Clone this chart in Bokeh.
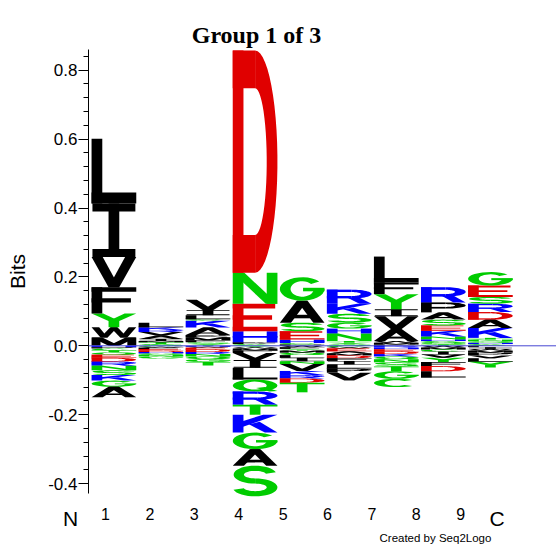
import numpy as np
from bokeh.plotting import figure
from bokeh.models import Range1d, SingleIntervalTicker, PrintfTickFormatter, Label
from bokeh.embed import file_html
from bokeh.resources import INLINE

# ---------------- data (bits per residue, stacks listed from the zero line outward)
positions = [1, 2, 3, 4, 5, 6, 7, 8, 9]
up_letters = ["MWYFVIL", "STMIAVRKL", "YSFMPAKCLIV", "CPHEND", "PCHESAG",
              "QYTNHGSKR", "PMWAVIYFL", "TQGHNKESAPR", "CHQNTKADRSEG"]
up_bits = [
    [.024, .030, .040, .076, .088, .155, .188],
    [.005, .005, .004, .006, .010, .010, .006, .008, .013],
    [.006, .004, .006, .009, .006, .022, .020, .004, .012, .015, .030],
    [.005, .005, .032, .080, .090, .645],
    [.004, .004, .010, .024, .025, .064, .068],
    [.004, .005, .005, .022, .014, .017, .026, .029, .041],
    [.004, .005, .005, .035, .037, .020, .044, .034, .075],
    [.004, .004, .006, .005, .008, .017, .015, .017, .021, .029, .044],
    [.005, .004, .004, .005, .005, .029, .024, .022, .024, .020, .033, .039],
]
dn_letters = ["HPCTQEDRNSKGA", "CWFEDHQNG", "HWEDRNQGT", "YWMFVILQRTKGAS",
              "WFYMQLINVKRDT", "CWEAMDFILPV", "RHEDKQNSTGC", "WMCIVYFDL", "FIWMPVLY"]
dn_bits = [
    [.004, .004, .005, .006, .007, .009, .011, .012, .013, .014, .016, .018, .030],
    [.003, .003, .003, .005, .004, .004, .004, .005, .006],
    [.003, .003, .004, .008, .006, .007, .008, .008, .010],
    [.004, .004, .006, .007, .020, .023, .034, .035, .038, .029, .052, .048, .048, .089],
    [.004, .005, .005, .006, .007, .008, .010, .008, .020, .012, .010, .012, .028],
    [.004, .004, .008, .006, .006, .008, .008, .010, .012, .012, .022],
    [.005, .005, .006, .008, .007, .008, .009, .012, .014, .022, .024],
    [.005, .006, .006, .008, .010, .012, .012, .015, .018],
    [.004, .005, .005, .006, .008, .008, .010, .017],
]
x_tick_labels = ["1", "2", "3", "4", "5", "6", "7", "8", "9"]
title_text = "Group 1 of 3"
credit_text = "Created by Seq2Logo"

BLACK, GREEN, BLUE, RED = "#000000", "#00CC00", "#0000FF", "#E00000"
aa_color = {}
for c in "AVLIPWFM":
    aa_color[c] = BLACK
for c in "GSTYCNQ":
    aa_color[c] = GREEN
for c in "KRH":
    aa_color[c] = BLUE
for c in "DE":
    aa_color[c] = RED

# ---------------- letter outlines in a unit box
SX, SY = 0.24, 0.17


def R(x0, y0, x1, y1):
    return ([x0, x1, x1, x0], [y0, y0, y1, y1])


def P(*pts):
    return ([q[0] for q in pts], [q[1] for q in pts])


def ARC2(cx, cy, rx, ry, icx, icy, irx, iry, a0, a1, n=28):
    t = np.radians(np.linspace(a0, a1, n))
    ox = cx + rx * np.cos(t)
    oy = cy + ry * np.sin(t)
    ix = icx + irx * np.cos(t[::-1])
    iy = icy + iry * np.sin(t[::-1])
    return (list(ox) + list(ix), list(oy) + list(iy))


def ARC(cx, cy, rx, ry, a0, a1):
    return ARC2(cx, cy, rx, ry, cx, cy, rx - SX, ry - SY, a0, a1)


GLYPHS = {
    "A": [P((0, 0), (0.25, 0), (0.62, 1), (0.38, 1)), P((1, 0), (0.75, 0), (0.38, 1), (0.62, 1)),
          R(0.15, 0.2, 0.85, 0.36)],
    "C": [ARC(0.5, 0.5, 0.5, 0.5, 45, 315)],
    "D": [R(0, 0, SX, 1), R(0, 1 - SY, 0.5, 1), R(0, 0, 0.5, SY), ARC(0.5, 0.5, 0.5, 0.5, -90, 90)],
    "E": [R(0, 0, SX, 1), R(0, 1 - SY, 0.95, 1), R(0, 0.42, 0.88, 0.58), R(0, 0, 1, SY)],
    "F": [R(0, 0, SX, 1), R(0, 1 - SY, 1, 1), R(0, 0.42, 0.88, 0.58)],
    "G": [ARC(0.5, 0.5, 0.5, 0.5, 40, 360), R(0.52, 0.4, 1.0, 0.55)],
    "H": [R(0, 0, SX, 1), R(1 - SX, 0, 1, 1), R(0, 0.42, 1, 0.58)],
    "I": [R(0.38, 0, 0.62, 1), R(0.02, 0.85, 0.98, 1), R(0.02, 0, 0.98, 0.15)],
    "K": [R(0, 0, SX, 1), P((0.2, 0.3), (1, 1), (0.68, 1), (0.2, 0.62)),
          P((0.72, 0), (1, 0), (0.6, 0.6), (0.36, 0.46))],
    "L": [R(0, 0, SX, 1), R(0, 0, 1, SY)],
    "M": [R(0, 0, 0.2, 1), R(0.8, 0, 1, 1), P((0, 1), (0.24, 1), (0.62, 0), (0.38, 0)),
          P((1, 1), (0.76, 1), (0.38, 0), (0.62, 0))],
    "N": [R(0, 0, SX, 1), R(1 - SX, 0, 1, 1), P((0, 1), (0.26, 1), (1, 0), (0.74, 0))],
    "P": [R(0, 0, SX, 1), R(0, 1 - SY, 0.55, 1), R(0, 0.38, 0.55, 0.38 + SY),
          ARC(0.55, 0.69, 0.45, 0.31, -90, 90)],
    "Q": [ARC(0.5, 0.5, 0.5, 0.5, 0, 360), P((0.52, 0.3), (0.72, 0.38), (1, 0.05), (0.82, 0))],
    "R": [R(0, 0, SX, 1), R(0, 1 - SY, 0.55, 1), R(0, 0.38, 0.55, 0.38 + SY),
          ARC(0.55, 0.69, 0.45, 0.31, -90, 90), P((0.45, 0.45), (0.72, 0.45), (1, 0), (0.73, 0))],
    "S": [ARC2(0.5, 0.7075, 0.48, 0.2925, 0.5, 0.7075, 0.25, 0.1225, 15, 270),
          ARC2(0.5, 0.2925, 0.5, 0.2925, 0.5, 0.2925, 0.26, 0.1225, -165, 90)],
    "T": [R(0, 1 - SY, 1, 1), R(0.38, 0, 0.62, 1)],
    "V": [P((0, 1), (0.25, 1), (0.62, 0), (0.38, 0)), P((1, 1), (0.75, 1), (0.38, 0), (0.62, 0))],
    "W": [P((0, 1), (0.17, 1), (0.36, 0), (0.2, 0)), P((0.2, 0), (0.36, 0), (0.58, 1), (0.42, 1)),
          P((0.42, 1), (0.58, 1), (0.8, 0), (0.64, 0)), P((0.64, 0), (0.8, 0), (1, 1), (0.83, 1))],
    "Y": [P((0, 1), (0.26, 1), (0.62, 0.45), (0.38, 0.45)), P((1, 1), (0.74, 1), (0.38, 0.45), (0.62, 0.45)),
          R(0.38, 0, 0.62, 0.5)],
}

# ---------------- layout constants (pixels); the frame covers the whole canvas
W, H = 556, 545
AXIS_PX = 88          # where the Bits axis stands
PX_PER_POS = 47.06
ZERO_PX = 345.3
PX_PER_BIT = 344.5
x_start = -AXIS_PX / PX_PER_POS
x_end = (W - AXIS_PX) / PX_PER_POS
y_top = ZERO_PX / PX_PER_BIT
y_bot = -(H - ZERO_PX) / PX_PER_BIT

COL_OFFSET = 0.46   # column centre = position - offset
LW = 0.95           # letter width (in position units)

xs, ys, cols = [], [], []


def add_letter(ch, left, bottom, height):
    for gx, gy in GLYPHS[ch]:
        xs.append([left + LW * v for v in gx])
        ys.append([bottom + height * v for v in gy])
        cols.append(aa_color[ch])


for i, pos in enumerate(positions):
    left = pos - COL_OFFSET - LW / 2
    base = 0.0
    for ch, b in zip(up_letters[i], up_bits[i]):
        add_letter(ch, left, base, b)
        base += b
    base = 0.0
    for ch, b in zip(dn_letters[i], dn_bits[i]):
        add_letter(ch, left, base - b, b)
        base -= b

p = figure(width=W, height=H, x_range=Range1d(x_start, x_end), y_range=Range1d(y_bot, y_top),
           x_axis_location=None, y_axis_location="left", toolbar_location=None,
           output_backend="svg", min_border_left=0, min_border_right=0,
           min_border_top=0, min_border_bottom=0)
p.grid.visible = False
p.outline_line_color = None
p.background_fill_color = "white"
p.border_fill_color = "white"

p.patches(xs, ys, fill_color=cols, line_color=None)

# zero line from the axis to the right edge
p.segment(x0=[0], y0=[0], x1=[x_end], y1=[0], line_color="#4646d2", line_width=1)

ax = p.yaxis[0]
ax.fixed_location = 0
ax.ticker = SingleIntervalTicker(interval=0.2, num_minor_ticks=5)
ax.formatter = PrintfTickFormatter(format="%.1f")
ax.bounds = (-0.43, 0.86)
ax.major_tick_out = 10
ax.major_tick_in = 0
ax.minor_tick_out = 5
ax.minor_tick_in = 0
ax.major_label_standoff = 1
ax.major_label_text_font = "Liberation Sans"
ax.major_label_text_font_size = "17px"
ax.major_label_text_color = "black"
ax.axis_line_color = "black"
ax.major_tick_line_color = "black"
ax.minor_tick_line_color = "black"
ax.axis_label = "Bits"
ax.axis_label_text_font = "Liberation Sans"
ax.axis_label_text_font_style = "normal"
ax.axis_label_text_font_size = "21px"
ax.axis_label_text_color = "black"
ax.axis_label_standoff = 16


def px2x(px):
    return (px - AXIS_PX) / PX_PER_POS


def px2y(py):
    return (ZERO_PX - py) / PX_PER_BIT


for k, lab in enumerate(x_tick_labels):
    p.add_layout(Label(x=px2x(105 + 44.4 * k), y=px2y(513), text=lab, text_align="center",
                       text_baseline="alphabetic", text_font="Liberation Sans",
                       text_font_size="16px", text_color="black"))
p.add_layout(Label(x=px2x(70), y=px2y(518), text="N", text_align="center", text_baseline="alphabetic",
                   text_font="Liberation Sans", text_font_size="21px", text_color="black"))
p.add_layout(Label(x=px2x(496.5), y=px2y(518), text="C", text_align="center", text_baseline="alphabetic",
                   text_font="Liberation Sans", text_font_size="21px", text_color="black"))
p.add_layout(Label(x=px2x(379), y=px2y(537), text=credit_text, text_align="left",
                   text_baseline="alphabetic", text_font="Liberation Sans",
                   text_font_size="11.5px", text_color="black"))
p.add_layout(Label(x=px2x(256), y=px2y(34), text=title_text, text_align="center",
                   text_baseline="alphabetic", text_font="Liberation Serif", text_font_style="bold",
                   text_font_size="24px", text_color="black"))

open("out.html", "w").write(file_html(p, INLINE))
